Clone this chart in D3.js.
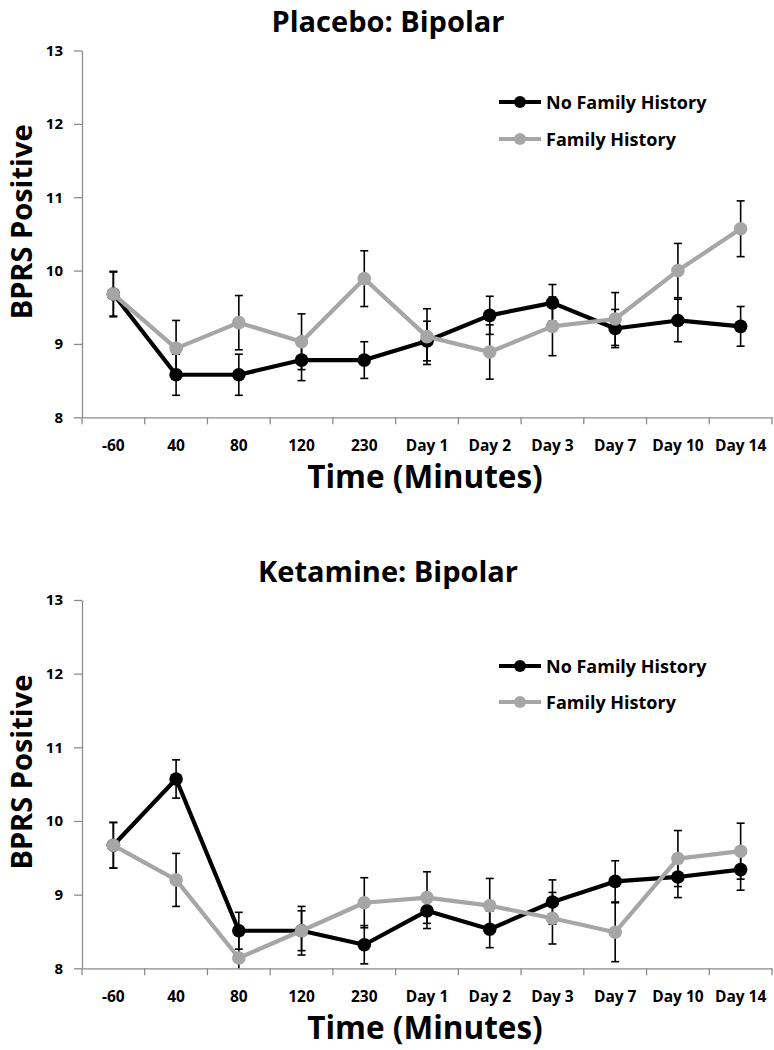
<!DOCTYPE html>
<html>
<head>
<meta charset="utf-8">
<script src="https://cdn.jsdelivr.net/npm/d3@7"></script>
<style>
  html, body { margin: 0; padding: 0; background: #fff; }
  svg { display: block; }
  text { font-family: "Open Sans", Lato, sans-serif; font-weight: bold; fill: #000; }
</style>
</head>
<body>
<div id="chart"></div>
<script>
// ---------- data ----------
const categories = ["-60", "40", "80", "120", "230", "Day 1", "Day 2", "Day 3", "Day 7", "Day 10", "Day 14"];
const yTicks = [8, 9, 10, 11, 12, 13];
const seriesNames = ["No Family History", "Family History"];

const placeboNoFH    = [9.68, 8.58, 8.58, 8.78, 8.78, 9.04, 9.39, 9.56, 9.21, 9.32, 9.24];
const placeboNoFHErr = [0.31, 0.28, 0.28, 0.28, 0.25, 0.27, 0.26, 0.25, 0.26, 0.29, 0.27];
const placeboFH      = [9.68, 8.94, 9.29, 9.03, 9.89, 9.10, 8.89, 9.24, 9.34, 10.00, 10.57];
const placeboFHErr   = [0.30, 0.38, 0.37, 0.38, 0.38, 0.38, 0.37, 0.40, 0.36, 0.37, 0.38];

const ketamineNoFH    = [9.67, 10.57, 8.51, 8.51, 8.32, 8.78, 8.53, 8.90, 9.18, 9.24, 9.34];
const ketamineNoFHErr = [0.31, 0.26, 0.25, 0.27, 0.26, 0.24, 0.25, 0.30, 0.28, 0.28, 0.28];
const ketamineFH      = [9.67, 9.20, 8.14, 8.51, 8.89, 8.96, 8.85, 8.68, 8.49, 9.49, 9.59];
const ketamineFHErr   = [0.31, 0.36, 0.37, 0.33, 0.34, 0.35, 0.37, 0.35, 0.40, 0.38, 0.38];

const panels = [
  { title: "Placebo: Bipolar",  top: 0,   plotTop: 50.5, plotBottom: 417.3, legendY: [102, 139],
    series: [placeboNoFH, placeboFH], errs: [placeboNoFHErr, placeboFHErr] },
  { title: "Ketamine: Bipolar", top: 550, plotTop: 600,  plotBottom: 968.3, legendY: [666, 702],
    series: [ketamineNoFH, ketamineFH], errs: [ketamineNoFHErr, ketamineFHErr] }
];

// ---------- layout / style ----------
const W = 774, H = 1050;
const colors = ["#000000", "#a6a6a6"];
const axisColor = "#8c8c8c";
const plotLeft = 82, plotRight = 772;

const svg = d3.select("#chart").append("svg").attr("width", W).attr("height", H);

const x = d3.scaleBand().domain(categories).range([plotLeft, plotRight]).paddingInner(0).paddingOuter(0);
const cx = c => x(c) + x.bandwidth() / 2;

panels.forEach((p) => {
  const yTop = p.plotTop, yBot = p.plotBottom;
  const y = d3.scaleLinear().domain([8, 13]).range([yBot, yTop]);
  const g = svg.append("g");

  // title
  g.append("text")
    .attr("x", 388).attr("y", p.top + 31.5)
    .attr("text-anchor", "middle")
    .style("font-size", "29px")
    .text(p.title);

  // y axis
  const yAxis = g.append("g")
    .attr("transform", `translate(${plotLeft},0)`)
    .call(d3.axisLeft(y).tickValues(yTicks).tickFormat(d3.format("d")).tickSize(8).tickSizeOuter(0).tickPadding(11));
  yAxis.select(".domain").attr("stroke", axisColor).attr("stroke-width", 1.3);
  yAxis.selectAll(".tick line").attr("stroke", axisColor).attr("stroke-width", 1.3);
  yAxis.selectAll(".tick text").style("font-size", "15px").style("font-family", "'Open Sans', sans-serif").style("font-weight", "bold");

  // x axis (labels centered, ticks at category boundaries)
  const xAxis = g.append("g")
    .attr("transform", `translate(0,${yBot})`)
    .call(d3.axisBottom(x).tickSize(0).tickSizeOuter(0).tickPadding(23));
  xAxis.select(".domain").attr("stroke", axisColor).attr("stroke-width", 1.3);
  xAxis.selectAll(".tick text").style("font-size", "15.5px").style("font-family", "'Open Sans', sans-serif").style("font-weight", "bold");
  const bounds = categories.map(c => x(c)).concat([x.range()[1]]);
  g.append("g").selectAll("line").data(bounds).join("line")
    .attr("x1", d => d).attr("x2", d => d)
    .attr("y1", yBot).attr("y2", yBot + 7)
    .attr("stroke", axisColor).attr("stroke-width", 1.3);

  // axis titles
  g.append("text")
    .attr("transform", `translate(31.5,${(yTop + yBot) / 2 - 12}) rotate(-90)`)
    .attr("text-anchor", "middle")
    .style("font-size", "29px")
    .text("BPRS Positive");
  g.append("text")
    .attr("x", 425).attr("y", yBot + 71)
    .attr("text-anchor", "middle")
    .style("font-size", "31.5px")
    .text("Time (Minutes)");

  // series
  const line = d3.line().x((d, i) => cx(categories[i])).y(d => y(d));
  p.series.forEach((vals, si) => {
    const errs = p.errs[si];
    const s = g.append("g");
    s.append("path").datum(vals)
      .attr("d", line)
      .attr("fill", "none")
      .attr("stroke", colors[si])
      .attr("stroke-width", 4.2)
      .attr("stroke-linejoin", "round");
    // error bars
    const eb = s.append("g").selectAll("g").data(vals.map((v, i) => ({ v, e: errs[i], c: categories[i] }))).join("g");
    const lo = d => y(Math.max(8, d.v - d.e));
    const hi = d => y(Math.min(13, d.v + d.e));
    eb.append("line")
      .attr("x1", d => cx(d.c)).attr("x2", d => cx(d.c))
      .attr("y1", lo).attr("y2", hi)
      .attr("stroke", "#000").attr("stroke-width", 1.6);
    eb.filter(d => d.v + d.e <= 13).append("line")
      .attr("x1", d => cx(d.c) - 4).attr("x2", d => cx(d.c) + 4)
      .attr("y1", hi).attr("y2", hi)
      .attr("stroke", "#000").attr("stroke-width", 1.6);
    eb.filter(d => d.v - d.e >= 8).append("line")
      .attr("x1", d => cx(d.c) - 4).attr("x2", d => cx(d.c) + 4)
      .attr("y1", lo).attr("y2", lo)
      .attr("stroke", "#000").attr("stroke-width", 1.6);
    // markers
    s.append("g").selectAll("circle").data(vals).join("circle")
      .attr("cx", (d, i) => cx(categories[i]))
      .attr("cy", d => y(d))
      .attr("r", 6.8)
      .attr("fill", colors[si]);
  });

  // legend
  const lg = g.append("g");
  seriesNames.forEach((name, si) => {
    const ly = p.legendY[si];
    lg.append("line")
      .attr("x1", 499).attr("x2", 541)
      .attr("y1", ly).attr("y2", ly)
      .attr("stroke", colors[si]).attr("stroke-width", 4.2);
    lg.append("circle")
      .attr("cx", 520).attr("cy", ly).attr("r", 6)
      .attr("fill", colors[si]);
    lg.append("text")
      .attr("x", 546).attr("y", ly + 6.5)
      .style("font-size", "18px")
      .text(name);
  });
});
</script>
</body>
</html>
